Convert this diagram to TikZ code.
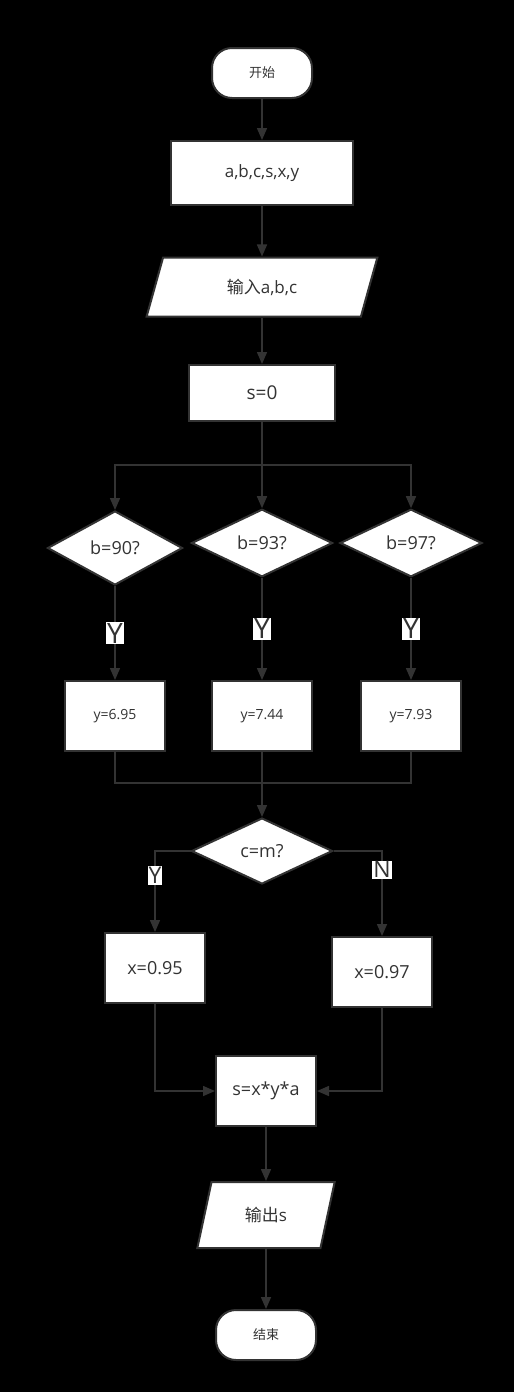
\documentclass[tikz,border=0pt]{standalone}
\usepackage{fontspec}
\setmainfont{Open Sans}
\newfontfamily\cjk{Noto Sans CJK SC}
\usetikzlibrary{arrows.meta, positioning, shapes.geometric}
\definecolor{linegray}{HTML}{333333}

\begin{document}
\begin{tikzpicture}[x=1pt, y=-1pt, >={Triangle[length=12pt, width=10pt]},
  flowshape/.style={draw=linegray, line width=2pt, fill=white, text=linegray, inner sep=1pt},
  term/.style={flowshape, rectangle, rounded corners=20pt, minimum width=100pt, minimum height=50pt, font=\fontsize{13}{15}\selectfont\cjk},
  proc/.style={flowshape, rectangle, minimum width=100pt, minimum height=70pt, font=\fontsize{18}{20}\selectfont},
  io/.style={flowshape, trapezium, trapezium left angle=72, trapezium right angle=108, trapezium stretches=true, font=\fontsize{17}{19}\selectfont},
  cond/.style={flowshape, diamond, font=\fontsize{18}{20}\selectfont},
  lbl/.style={fill=white, text=linegray, inner sep=1pt, font=\fontsize{28}{30}\selectfont},
  conn/.style={draw=linegray, line width=1.5pt}]
\fill[black] (0,0) rectangle (514,1392);
\useasboundingbox (0,0) rectangle (514,1392);
% Start and setup
\node[term] (start) at (262,73) {开始};
\node[proc, minimum width=182pt, minimum height=64pt, font=\fontsize{17}{19}\selectfont] (vars) at (262,173) {a,b,c,s,x,y};
\node[io, minimum width=232pt, minimum height=59pt] (input) at (262,287) {{\cjk 输入}a,b,c};
\node[proc, minimum width=146pt, minimum height=56pt, font=\fontsize{19}{21}\selectfont] (init) at (262,393) {s=0};
\draw[->, conn] (start) -- (vars);
\draw[->, conn] (vars) -- (input);
\draw[->, conn] (input) -- (init);
% Grade branches
\coordinate (split) at (262,465);
\node[cond, minimum width=135pt, minimum height=74pt] (q1) at (115,548) {b=90?};
\node[cond, minimum width=141pt, minimum height=65pt] (q2) at (262,543) {b=93?};
\node[cond, minimum width=142pt, minimum height=65pt] (q3) at (411,543) {b=97?};
\node[proc, font=\fontsize{14}{16}\selectfont] (r1) at (115,716) {y=6.95};
\node[proc, font=\fontsize{14}{16}\selectfont] (r2) at (262,716) {y=7.44};
\node[proc, font=\fontsize{14}{16}\selectfont] (r3) at (411,716) {y=7.93};
\draw[conn] (init) -- (split);
\draw[->, conn] (split) -| (q1.north);
\draw[->, conn] (split) -- (q2);
\draw[->, conn] (split) -| (q3.north);
\draw[->, conn] (q1) -- node[lbl] {Y} (r1);
\draw[->, conn] (q2) -- node[lbl] {Y} (r2);
\draw[->, conn] (q3) -- node[lbl] {Y} (r3);
% Merge and second test
\coordinate (merge) at (262,783);
\node[cond, minimum width=141pt, minimum height=66pt] (q4) at (262,851) {c=m?};
\draw[conn] (r1) |- (merge);
\draw[conn] (r3) |- (merge);
\draw[conn] (r2) -- (merge);
\draw[->, conn] (merge) -- (q4);
\node[proc] (x1) at (155,968) {x=0.95};
\node[proc] (x2) at (382,972) {x=0.97};
\draw[->, conn] (q4.west) -| node[lbl, pos=0.65, font=\fontsize{23}{25}\selectfont] {Y} (x1);
\draw[->, conn] (q4.east) -| node[lbl, pos=0.61, font=\fontsize{23}{25}\selectfont] {N} (x2);
% Result and end
\node[proc] (calc) at (266,1091) {s=x*y*a};
\node[io, minimum width=138pt, minimum height=66pt] (output) at (266,1215) {{\cjk 输出}s};
\node[term] (stop) at (266,1335) {结束};
\draw[->, conn] (x1) |- (calc);
\draw[->, conn] (x2) |- (calc);
\draw[->, conn] (calc) -- (output);
\draw[->, conn] (output) -- (stop);
\end{tikzpicture}
\end{document}
